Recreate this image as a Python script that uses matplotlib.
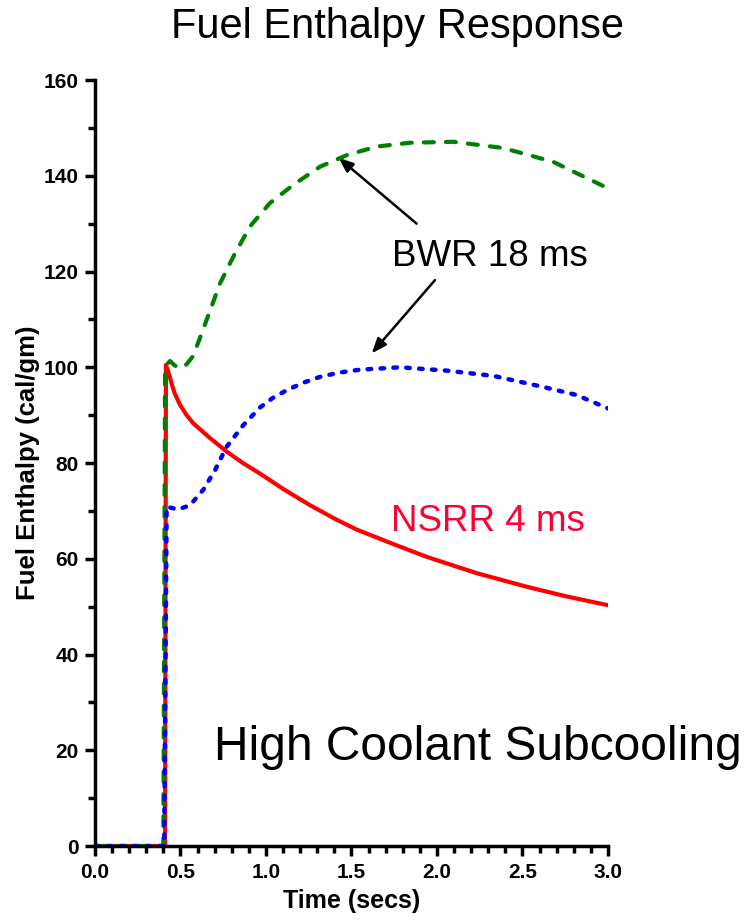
import matplotlib
matplotlib.use("Agg")
import matplotlib.pyplot as plt
from matplotlib.ticker import MultipleLocator

plt.rcParams['font.family'] = ['Liberation Sans', 'DejaVu Sans']

# NSRR 4 ms (red, solid)
t_nsrr = [0.0, 0.40, 0.41, 0.415, 0.425, 0.438, 0.453, 0.468, 0.497, 0.536, 0.575, 0.67,
          0.77, 0.865, 0.965, 1.10, 1.257, 1.40, 1.53, 1.75, 1.94, 2.232, 2.52, 2.75, 3.0]
h_nsrr = [0.0, 0.0, 0.0, 100.5, 99.4, 97.9, 96.0, 94.4, 92.2, 90.0, 88.3, 85.3,
          82.4, 80.0, 77.8, 74.6, 71.2, 68.4, 66.1, 63.0, 60.4, 57.0, 54.2, 52.2, 50.3]

# BWR 18 ms (green, dashed) - upper curve
t_bwr1 = [0.0, 0.40, 0.41, 0.425, 0.439, 0.465, 0.497, 0.535, 0.575, 0.653, 0.731, 0.809,
          0.906, 1.023, 1.16, 1.316, 1.472, 1.647, 1.842, 2.095, 2.388, 2.68, 2.982, 3.0]
h_bwr1 = [0.0, 0.0, 99.0, 100.8, 101.3, 100.4, 99.8, 100.6, 102.4, 109.9, 117.5, 123.1,
          129.4, 134.3, 138.1, 141.9, 144.3, 146.1, 146.9, 147.1, 145.8, 142.9, 137.7, 137.4]

# BWR 18 ms (blue, dotted) - lower curve
t_bwr2 = [0.0, 0.40, 0.405, 0.419, 0.45, 0.487, 0.556, 0.633, 0.702, 0.770, 0.867, 0.965,
          1.04, 1.121, 1.22, 1.316, 1.43, 1.550, 1.784, 2.057, 2.33, 2.62, 2.817, 3.0]
h_bwr2 = [0.0, 0.0, 0.0, 70.9, 70.6, 70.3, 71.2, 74.4, 78.5, 83.4, 87.9, 91.6,
          93.6, 95.2, 96.8, 98.0, 98.9, 99.5, 100.0, 99.3, 98.2, 95.9, 94.2, 91.4]

x_ticks = [0.0, 0.5, 1.0, 1.5, 2.0, 2.5, 3.0]
y_ticks = [0, 20, 40, 60, 80, 100, 120, 140, 160]

fig = plt.figure(figsize=(7.46, 9.22), dpi=100)
ax = fig.add_axes([0.1273, 0.0824, 0.815 - 0.1273, 0.9132 - 0.0824])

ax.plot(t_nsrr, h_nsrr, color='#ff0000', lw=3.0, solid_joinstyle='round', zorder=3)
ax.plot(t_bwr1, h_bwr1, color='#008000', lw=3.0, dashes=(2.4, 2.9),
        dash_capstyle='round', zorder=4)
ax.plot(t_bwr2, h_bwr2, color='#0000ff', lw=3.2, dashes=(0.8, 2.1),
        dash_capstyle='round', zorder=5)

ax.set_xlim(0, 3.0)
ax.set_ylim(0, 160)
ax.set_xticks(x_ticks)
ax.set_xticklabels([f"{v:.1f}" for v in x_ticks])
ax.set_yticks(y_ticks)
ax.xaxis.set_minor_locator(MultipleLocator(0.1))
ax.yaxis.set_minor_locator(MultipleLocator(10))

for s in ['top', 'right']:
    ax.spines[s].set_visible(False)
for s in ['left', 'bottom']:
    ax.spines[s].set_linewidth(2.5)
    ax.spines[s].set_zorder(6)
ax.tick_params(which='major', direction='out', length=7.5, width=2.5,
               labelsize=15, pad=4)
ax.tick_params(axis='x', which='major', pad=5)
ax.tick_params(which='minor', direction='out', length=5, width=2.5)
for lab in ax.get_xticklabels() + ax.get_yticklabels():
    lab.set_fontweight('bold')

ax.set_xlabel('Time (secs)', fontsize=18, fontweight='bold', labelpad=5)
ax.set_ylabel('Fuel Enthalpy (cal/gm)', fontsize=18.5, fontweight='bold', labelpad=3)

fig.text(0.5335, 1 - 27 / 922, 'Fuel Enthalpy Response', fontsize=30,
         ha='center', va='center')

ax.text(2.31, 123.2, 'BWR 18 ms', fontsize=26.5, ha='center', va='center', color='black')
ax.text(2.30, 67.7, 'NSRR 4 ms', fontsize=26.5, ha='center', va='center', color='#ff0033')
ax.text(2.24, 20.5, 'High Coolant Subcooling', fontsize=34.5, ha='center', va='center',
        color='black', clip_on=False)

arrow = dict(arrowstyle='-|>,head_length=0.9,head_width=0.35', color='black', lw=1.8,
             shrinkA=0, shrinkB=0)
ax.annotate('', xy=(1.423, 143.8), xytext=(1.881, 130.0), arrowprops=arrow)
ax.annotate('', xy=(1.618, 102.9), xytext=(1.988, 118.2), arrowprops=arrow)

fig.savefig('out.png', dpi=100)
